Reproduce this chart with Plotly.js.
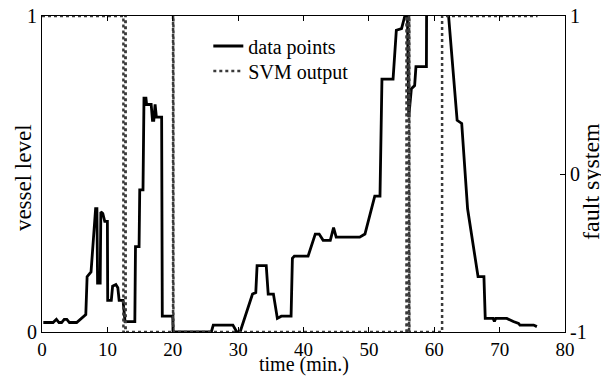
<!DOCTYPE html>
<html>
<head>
<meta charset="utf-8">
<script src="https://cdn.plot.ly/plotly-3.0.1.min.js"></script>
<style>html,body{margin:0;padding:0;background:#fff;}#chart{width:601px;height:376px;}</style>
</head>
<body>
<div id="chart"></div>
<script>
// vessel level (data points), time in minutes
var dataTime = [0.2,1.7,2.2,2.6,3.0,3.4,3.8,4.2,5.3,6.3,6.7,6.9,7.5,8.2,8.4,8.5,8.9,9.0,9.3,9.6,10.0,10.05,10.6,10.8,11.3,11.6,11.8,12.4,12.7,13.2,14.2,14.3,14.85,14.95,15.45,15.6,15.9,16.0,16.7,16.9,17.1,17.3,17.5,18.3,18.4,20.0,20.05,25.9,26.2,29.2,29.8,30.3,32.2,32.7,32.9,34.3,34.6,35.4,36.0,36.6,38.1,38.3,38.6,40.7,41.8,42.4,43.0,44.1,44.6,45.0,48.6,49.4,50.9,51.7,52.0,53.7,54.2,55.0,55.5,55.9,56.1,56.5,57.0,57.2,58.8,58.85,61.6,63.5,64.2,65.1,66.7,67.6,67.8,69.0,69.2,69.4,71.1,72.1,72.9,73.1,75.2,75.7];
var dataLevel = [0.03,0.03,0.04,0.03,0.03,0.04,0.04,0.03,0.03,0.05,0.055,0.175,0.19,0.39,0.39,0.155,0.155,0.38,0.375,0.35,0.35,0.10,0.10,0.145,0.15,0.14,0.10,0.10,0.033,0.033,0.033,0.27,0.27,0.45,0.45,0.74,0.74,0.72,0.72,0.67,0.67,0.72,0.68,0.68,0.05,0.05,0,0,0.022,0.022,0,0,0.12,0.125,0.21,0.21,0.12,0.12,0.043,0.05,0.05,0.233,0.24,0.24,0.31,0.31,0.29,0.29,0.33,0.30,0.30,0.31,0.43,0.43,0.80,0.80,0.955,0.96,1.0,1.0,0.68,0.77,0.78,0.84,0.84,1.15,1.15,0.67,0.66,0.39,0.175,0.175,0.043,0.043,0.033,0.043,0.043,0.033,0.027,0.022,0.022,0.017];

// SVM output (fault system, -1 / 1)
var svmTime = [0,12.45,12.45,12.75,12.75,12.8,12.8,20.05,20.05,20.1,20.1,55.75,55.75,55.8,55.8,56.15,56.15,56.2,56.2,61.2,61.2,75.8];
var svmOut  = [1,1,-1,-1,1,1,-1,-1,1,1,-1,-1,1,1,-1,-1,1,1,-1,-1,1,1];

var xTicks = [0,10,20,30,40,50,60,70,80];
var yTicks = [0,1];
var y2Ticks = [-1,0,1];
var y2TickText = ['-1','0','1'];

var xTitle = 'time (min.)';
var yTitle = 'vessel level';
var y2Title = 'fault system';

var serif = 'Liberation Serif, Times New Roman, serif';

var traces = [
  {x: dataTime, y: dataLevel, type: 'scatter', mode: 'lines', name: 'data points',
   line: {color: '#000', width: 2.8}, yaxis: 'y', legend: 'legend'},
  {x: svmTime, y: svmOut, type: 'scatter', mode: 'lines', name: 'SVM output',
   line: {color: '#3a3a3a', width: 2.5, dash: 'dot'}, yaxis: 'y2', legend: 'legend2'}
];

var legendBase = {xanchor: 'left', yanchor: 'middle', bgcolor: 'rgba(0,0,0,0)',
  borderwidth: 0, font: {family: serif, size: 20, color: '#000'}, itemwidth: 30};

var layout = {
  width: 601, height: 376,
  margin: {l: 42, r: 36, t: 16, b: 44},
  paper_bgcolor: '#fff', plot_bgcolor: '#fff',
  font: {family: serif, size: 20, color: '#000'},
  showlegend: true,
  legend: Object.assign({}, legendBase, {x: 0.318, y: 0.905}),
  legend2: Object.assign({}, legendBase, {x: 0.318, y: 0.826}),
  xaxis: {range: [0, 80], tickvals: xTicks, ticks: 'inside', ticklen: 5, tickcolor: '#000',
          showline: true, linecolor: '#000', linewidth: 1, mirror: 'ticks',
          showgrid: false, zeroline: false,
          tickfont: {family: serif, size: 19, color: '#000'}},
  yaxis: {range: [0, 1], tickvals: yTicks, ticks: 'inside', ticklen: 5, tickcolor: '#000',
          showline: true, linecolor: '#000', linewidth: 1, mirror: true,
          showgrid: false, zeroline: false,
          tickfont: {family: serif, size: 20, color: '#000'}},
  yaxis2: {range: [-1, 1], tickvals: y2Ticks, ticktext: y2TickText, overlaying: 'y', side: 'right',
           ticks: 'inside', ticklen: 5, tickcolor: '#000',
           showline: true, linecolor: '#000', linewidth: 1,
           showgrid: false, zeroline: false,
           tickfont: {family: serif, size: 20, color: '#000'}},
  annotations: [
    {text: xTitle, xref: 'paper', yref: 'paper', x: 0.5, y: 0, xanchor: 'center', yanchor: 'middle',
     yshift: -32, showarrow: false, font: {family: serif, size: 20, color: '#000'}},
    {text: yTitle, xref: 'paper', yref: 'paper', x: 0, y: 0.487, xanchor: 'center', yanchor: 'middle',
     xshift: -19, textangle: -90, showarrow: false, font: {family: serif, size: 23, color: '#000'}},
    {text: y2Title, xref: 'paper', yref: 'paper', x: 1, y: 0.475, xanchor: 'center', yanchor: 'middle',
     xshift: 26, textangle: -90, showarrow: false, font: {family: serif, size: 24, color: '#000'}}
  ]
};

Plotly.newPlot('chart', traces, layout, {displayModeBar: false, staticPlot: true});
</script>
</body>
</html>
